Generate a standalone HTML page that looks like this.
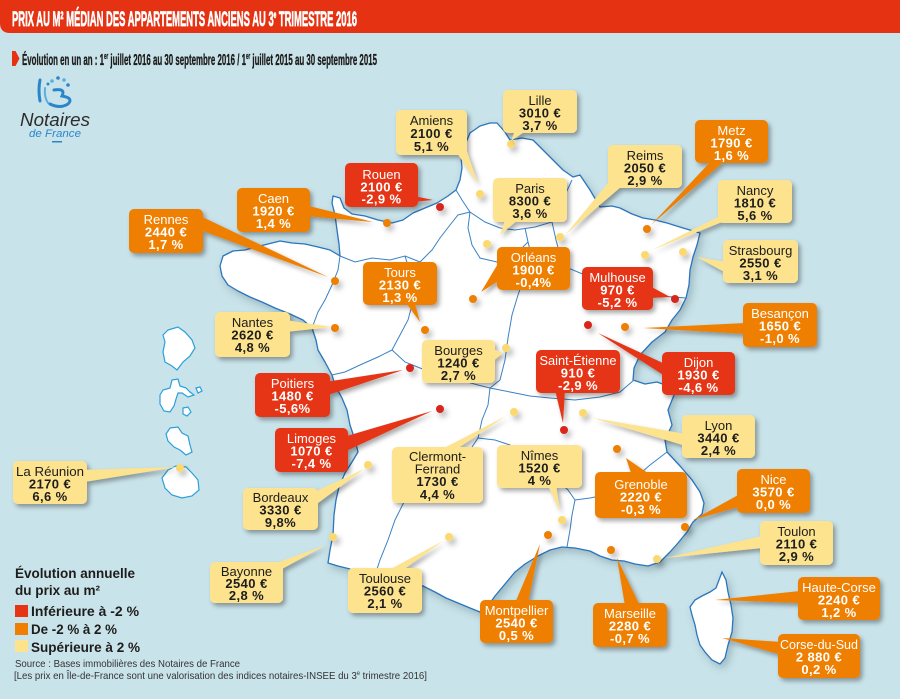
<!DOCTYPE html>
<html><head><meta charset="utf-8">
<style>
html,body{margin:0;padding:0;background:#c9e3ea;}
svg{display:block;}
text{font-family:"Liberation Sans",sans-serif;}
.c{font-size:13px;text-anchor:middle;}
.b{font-weight:bold;letter-spacing:0.4px;}
.w{fill:#ffffff;}
.k{fill:#1d1d1b;}
.R{fill:#e53515;}
.O{fill:#ef7f00;}
.Y{fill:#fde38e;}
.dR{fill:#d8251a;}
.dO{fill:#ef7f00;}
.dY{fill:#fcd96e;}
</style></head>
<body>
<svg width="900" height="699" viewBox="0 0 900 699" xmlns="http://www.w3.org/2000/svg">
<defs>
<filter id="ds" x="-10%" y="-10%" width="130%" height="130%"><feDropShadow dx="2.5" dy="3" stdDeviation="2.5" flood-color="#000" flood-opacity="0.35"/></filter>
<filter id="ms" x="-10%" y="-10%" width="130%" height="130%"><feDropShadow dx="3" dy="4" stdDeviation="4" flood-color="#3a5560" flood-opacity="0.3"/></filter>
<filter id="dd" x="-100%" y="-100%" width="400%" height="400%"><feDropShadow dx="3" dy="4" stdDeviation="3" flood-color="#000" flood-opacity="0.3"/></filter>
</defs>
<rect x="0" y="0" width="900" height="699" fill="#c9e3ea"/>

<!-- Header -->
<path d="M0,0 H900 V33 H10 Q0,33 0,23 Z" fill="#e53212"/>
<text x="12" y="26" font-size="21" font-weight="bold" fill="#fff" stroke="#fff" stroke-width="0.7" textLength="345" lengthAdjust="spacingAndGlyphs">PRIX AU M² MÉDIAN DES APPARTEMENTS ANCIENS AU 3<tspan font-size="10" dy="-8">e</tspan><tspan dy="8"> TRIMESTRE 2016</tspan></text>

<path d="M12,51 L15.5,51 L19.5,58.5 L15.5,66 L12,66 Z" fill="#e53212"/>
<text x="22" y="65" font-size="16" font-weight="bold" fill="#1d1d1b" stroke="#1d1d1b" stroke-width="0.35" textLength="355" lengthAdjust="spacingAndGlyphs">Évolution en un an : 1<tspan font-size="9" dy="-6">er</tspan><tspan dy="6"> juillet 2016 au 30 septembre 2016 / 1</tspan><tspan font-size="9" dy="-6">er</tspan><tspan dy="6"> juillet 2015 au 30 septembre 2015</tspan></text>

<!-- Logo -->
<g fill="none" stroke-linecap="round">
<path d="M40,80 Q38,90 40,101" stroke="#2b86c9" stroke-width="3"/>
<path d="M45,88 Q44,97 48,103" stroke="#5aaee0" stroke-width="2"/>
<path d="M54,90 Q66,88 62,96 Q74,98 68,104 Q60,109 50,104" stroke="#2b86c9" stroke-width="3"/>
</g>
<circle cx="52" cy="81" r="1.8" fill="#5aaee0"/>
<circle cx="58" cy="78" r="1.8" fill="#2b86c9"/>
<circle cx="64" cy="80" r="1.8" fill="#5aaee0"/>
<circle cx="68" cy="85" r="1.8" fill="#2b86c9"/>
<circle cx="48" cy="84" r="1.5" fill="#2b86c9"/>
<text x="20" y="126" font-size="18" font-style="italic" fill="#2d2d2d" textLength="70" lengthAdjust="spacingAndGlyphs">Notaires</text>
<text x="29" y="137" font-size="11" font-style="italic" fill="#2b86c9" textLength="52" lengthAdjust="spacingAndGlyphs">de France</text>
<rect x="52" y="141" width="10" height="1.5" fill="#2b86c9"/>

<!-- Overseas islands -->
<g fill="#fff" stroke="#2aa0dc" stroke-width="1.2">
<path d="M168,330 L178,327 L185,332 L192,340 L195,348 L190,356 L183,362 L177,370 L172,366 L165,362 L163,352 L165,342 L163,335 Z"/>
<path d="M172,380 L178,379 L180,386 L186,388 L190,392 L194,395 L188,397 L182,393 L178,393 L176,399 L174,406 L170,412 L164,411 L160,404 L160,395 L163,390 L170,388 Z"/>
<path d="M196,388 L200,387 L202,391 L198,393 Z"/>
<path d="M183,408 L188,407 L191,412 L187,416 L183,414 Z"/>
<path d="M170,428 L178,427 L182,433 L188,436 L190,445 L192,452 L186,455 L180,450 L174,447 L168,441 L166,434 Z"/>
<path d="M168,470 L176,466 L186,467 L192,473 L198,480 L199,490 L192,496 L182,498 L172,495 L165,488 L162,478 Z"/>
</g>

<!-- France mainland -->
<g filter="url(#ms)">
<path fill="#fff" stroke="#2a75bd" stroke-width="1.3" stroke-linejoin="round" d="M490,123 L497,123 L505,132 L510,140 L522,138 L533,140 L543,150 L553,160 L563,170 L573,177 L580,175 L590,190 L600,207 L612,206 L620,208 L632,214 L643,218 L655,220 L667,223 L683,228 L700,233 L697,245 L693,257 L690,270 L689,285 L686,298 L680,310 L672,320 L665,332 L652,342 L640,355 L634,368 L633,380 L645,384 L657,382 L668,386 L674,395 L668,410 L672,425 L665,440 L667,452 L680,466 L692,480 L700,492 L704,503 L702,514 L693,522 L687,532 L678,543 L670,552 L660,562 L648,566 L635,564 L624,561 L612,560 L600,556 L590,551 L575,548 L562,547 L550,550 L538,556 L525,564 L515,572 L505,584 L495,596 L488,606 L480,612 L470,608 L458,603 L446,598 L435,592 L423,586 L410,582 L395,580 L380,577 L365,574 L350,569 L338,566 L328,563 L330,550 L333,535 L334,515 L336,500 L339,487 L345,473 L352,462 L358,452 L355,440 L350,425 L347,410 L342,398 L335,385 L332,375 L325,362 L318,350 L316,340 L312,328 L303,320 L290,314 L275,308 L262,302 L250,297 L238,291 L228,285 L222,276 L220,266 L223,256 L233,251 L245,250 L256,247 L268,244 L280,241 L292,243 L305,244 L318,247 L330,250 L340,256 L339,244 L337,230 L335,215 L332,203 L333,196 L340,198 L344,208 L352,214 L365,216 L378,220 L392,223 L403,220 L413,213 L425,208 L437,203 L448,196 L456,190 L460,180 L462,168 L461,157 L465,145 L470,133 L480,126 Z"/>
<path fill="#fff" stroke="#2a75bd" stroke-width="1.3" d="M722,572 L726,580 L728,592 L731,605 L733,618 L732,632 L728,645 L725,658 L720,664 L712,660 L705,652 L700,645 L697,635 L695,625 L692,615 L690,607 L695,600 L702,596 L710,592 L716,588 L719,580 Z"/>
</g>
<g fill="none" stroke="#3a82c4" stroke-width="1">
<path d="M456,190 L462,200 L470,212 L485,222 L500,228 L515,230 L535,227 L552,222 L560,210 L565,195 L572,180"/>
<path d="M340,256 L355,262 L372,258 L390,260 L405,256 L420,262 L432,250 L440,238 L450,225 L458,215 L470,212"/>
<path d="M312,328 L318,312 L325,300 L332,285 L338,270 L340,256"/>
<path d="M405,256 L410,272 L405,290 L412,305 L408,320 L400,335 L392,350"/>
<path d="M332,375 L345,372 L360,365 L378,357 L392,350"/>
<path d="M470,212 L468,228 L472,245 L480,258 L497,262 L515,255 L528,242 L525,228"/>
<path d="M528,242 L532,258 L525,275 L518,295 L512,315 L508,338 L505,360 L500,380 L490,388"/>
<path d="M392,350 L405,362 L420,368 L440,375 L460,380 L478,385 L490,388"/>
<path d="M552,222 L556,240 L560,255 L568,268 L585,275 L600,282 L620,288 L640,292 L660,296 L686,298"/>
<path d="M490,388 L510,392 L530,396 L550,398 L575,400 L600,397 L620,392 L634,380"/>
<path d="M490,388 L488,405 L482,420 L478,438 L470,450 L458,458 L445,468 L430,475 L415,485 L405,500 L395,520 L388,540 L380,560 L375,575"/>
<path d="M478,438 L495,440 L510,445 L525,455 L540,468 L555,478 L568,490 L575,500"/>
<path d="M575,500 L590,498 L605,495 L620,488 L635,478 L650,465 L667,452"/>
<path d="M575,500 L572,515 L570,530 L567,547"/>
</g>

<!-- Dots -->
<g filter="url(#dd)">
<circle class="dY" cx="480" cy="194" r="4"/>
<circle class="dY" cx="511" cy="144" r="4"/>
<circle class="dR" cx="440" cy="207" r="4"/>
<circle class="dY" cx="487" cy="244" r="4"/>
<circle class="dY" cx="560" cy="237" r="4"/>
<circle class="dO" cx="473" cy="299" r="4"/>
<circle class="dO" cx="425" cy="330" r="4"/>
<circle class="dR" cx="675" cy="299" r="4"/>
<circle class="dO" cx="647" cy="229" r="4"/>
<circle class="dY" cx="645" cy="255" r="4"/>
<circle class="dY" cx="683" cy="252" r="4"/>
<circle class="dO" cx="387" cy="223" r="4"/>
<circle class="dO" cx="335" cy="281" r="4"/>
<circle class="dO" cx="335" cy="328" r="4"/>
<circle class="dR" cx="410" cy="368" r="4"/>
<circle class="dR" cx="440" cy="409" r="4"/>
<circle class="dY" cx="368" cy="465" r="4"/>
<circle class="dY" cx="333" cy="537" r="4"/>
<circle class="dY" cx="449" cy="537" r="4"/>
<circle class="dY" cx="506" cy="348" r="4"/>
<circle class="dY" cx="514" cy="412" r="4"/>
<circle class="dY" cx="562" cy="520" r="4"/>
<circle class="dR" cx="564" cy="430" r="4"/>
<circle class="dR" cx="588" cy="325" r="4"/>
<circle class="dO" cx="625" cy="327" r="4"/>
<circle class="dY" cx="583" cy="413" r="4"/>
<circle class="dO" cx="617" cy="449" r="4"/>
<circle class="dO" cx="685" cy="527" r="4"/>
<circle class="dY" cx="657" cy="559" r="4"/>
<circle class="dO" cx="548" cy="535" r="4"/>
<circle class="dO" cx="611" cy="550" r="4"/>
<circle class="dY" cx="180" cy="468" r="4"/>
</g>

<!-- Callout shapes -->
<g filter="url(#ds)">
<path class="Y" d="M455,150 L465,146 L478,184 Z"/><rect class="Y" x="396" y="110" width="71" height="45" rx="5"/>
<path class="Y" d="M516,128 L530,128 L511,141 Z"/><rect class="Y" x="503" y="90" width="74" height="43" rx="5"/>
<path class="R" d="M402,203 L414,196 L433,200 Z"/><rect class="R" x="345" y="163" width="73" height="44" rx="5"/>
<path class="Y" d="M506,218 L520,218 L500,235 Z"/><rect class="Y" x="493" y="178" width="74" height="44" rx="5"/>
<path class="Y" d="M612,178 L622,186 L566,234 Z"/><rect class="Y" x="608" y="145" width="74" height="43" rx="5"/>
<path class="O" d="M499,262 L503,278 L481,292 Z"/><rect class="O" x="497" y="247" width="73" height="43" rx="5"/>
<path class="O" d="M404,300 L414,300 L420,322 Z"/><rect class="O" x="363" y="262" width="74" height="43" rx="5"/>
<path class="R" d="M648,285 L650,298 L670,297 Z"/><rect class="R" x="582" y="267" width="71" height="43" rx="5"/>
<path class="O" d="M714,158 L728,158 L651,225 Z"/><rect class="O" x="695" y="120" width="73" height="43" rx="5"/>
<path class="Y" d="M722,215 L732,218 L652,250 Z"/><rect class="Y" x="718" y="180" width="74" height="43" rx="5"/>
<path class="Y" d="M726,262 L728,274 L697,257 Z"/><rect class="Y" x="723" y="240" width="75" height="43" rx="5"/>
<path class="O" d="M305,205 L305,216 L373,222 Z"/><rect class="O" x="237" y="188" width="73" height="44" rx="5"/>
<path class="O" d="M196,214 L200,230 L328,277 Z"/><rect class="O" x="129" y="209" width="74" height="44" rx="5"/>
<path class="Y" d="M285,320 L285,332 L332,327 Z"/><rect class="Y" x="215" y="312" width="75" height="45" rx="5"/>
<path class="R" d="M325,382 L325,396 L403,370 Z"/><rect class="R" x="255" y="373" width="75" height="44" rx="5"/>
<path class="R" d="M340,438 L344,452 L432,411 Z"/><rect class="R" x="275" y="428" width="73" height="44" rx="5"/>
<path class="Y" d="M310,494 L314,506 L364,469 Z"/><rect class="Y" x="243" y="488" width="75" height="42" rx="5"/>
<path class="Y" d="M268,566 L280,570 L326,545 Z"/><rect class="Y" x="210" y="562" width="73" height="41" rx="5"/>
<path class="Y" d="M385,572 L400,572 L443,541 Z"/><rect class="Y" x="348" y="568" width="74" height="45" rx="5"/>
<path class="Y" d="M490,348 L492,362 L503,353 Z"/><rect class="Y" x="422" y="340" width="73" height="43" rx="5"/>
<path class="Y" d="M440,450 L455,450 L506,416 Z"/><rect class="Y" x="392" y="447" width="91" height="56" rx="5"/>
<path class="Y" d="M548,485 L556,485 L560,512 Z"/><rect class="Y" x="497" y="445" width="85" height="43" rx="5"/>
<path class="R" d="M555,390 L565,390 L563,423 Z"/><rect class="R" x="536" y="350" width="84" height="43" rx="5"/>
<path class="R" d="M665,364 L668,378 L598,333 Z"/><rect class="R" x="662" y="352" width="73" height="43" rx="5"/>
<path class="O" d="M746,323 L746,334 L643,328 Z"/><rect class="O" x="743" y="303" width="74" height="44" rx="5"/>
<path class="Y" d="M686,434 L686,446 L593,418 Z"/><rect class="Y" x="682" y="415" width="73" height="43" rx="5"/>
<path class="O" d="M632,476 L652,476 L626,458 Z"/><rect class="O" x="595" y="472" width="92" height="46" rx="5"/>
<path class="O" d="M740,494 L742,506 L693,520 Z"/><rect class="O" x="737" y="469" width="73" height="44" rx="5"/>
<path class="Y" d="M762,536 L762,548 L665,558 Z"/><rect class="Y" x="760" y="521" width="73" height="44" rx="5"/>
<path class="O" d="M800,591 L800,603 L715,600 Z"/><rect class="O" x="798" y="577" width="82" height="43" rx="5"/>
<path class="O" d="M782,642 L782,655 L722,638 Z"/><rect class="O" x="778" y="634" width="82" height="44" rx="5"/>
<path class="O" d="M515,603 L528,603 L540,544 Z"/><rect class="O" x="480" y="600" width="73" height="43" rx="5"/>
<path class="O" d="M625,606 L640,606 L617,558 Z"/><rect class="O" x="593" y="603" width="74" height="44" rx="5"/>
<path class="Y" d="M82,470 L84,482 L177,467 Z"/><rect class="Y" x="13" y="461" width="74" height="43" rx="5"/>
</g>

<!-- Callout text -->
<g class="c">
<text class="k" x="431.5" y="125">Amiens</text><text class="k b" x="431.5" y="138">2100 €</text><text class="k b" x="431.5" y="151">5,1 %</text>
<text class="k" x="540" y="105">Lille</text><text class="k b" x="540" y="117.5">3010 €</text><text class="k b" x="540" y="130">3,7 %</text>
<text class="w" x="381.5" y="179">Rouen</text><text class="w b" x="381.5" y="191.5">2100 €</text><text class="w b" x="381.5" y="203.5">-2,9 %</text>
<text class="k" x="530" y="193">Paris</text><text class="k b" x="530" y="205.5">8300 €</text><text class="k b" x="530" y="218">3,6 %</text>
<text class="k" x="645" y="160">Reims</text><text class="k b" x="645" y="172.5">2050 €</text><text class="k b" x="645" y="185">2,9 %</text>
<text class="w" x="533.5" y="262">Orléans</text><text class="w b" x="533.5" y="274.5">1900 €</text><text class="w b" x="533.5" y="287">-0,4%</text>
<text class="w" x="400" y="277">Tours</text><text class="w b" x="400" y="289.5">2130 €</text><text class="w b" x="400" y="302">1,3 %</text>
<text class="w" x="617.5" y="282">Mulhouse</text><text class="w b" x="617.5" y="294.5">970 €</text><text class="w b" x="617.5" y="307">-5,2 %</text>
<text class="w" x="731.5" y="135">Metz</text><text class="w b" x="731.5" y="147.5">1790 €</text><text class="w b" x="731.5" y="160">1,6 %</text>
<text class="k" x="755" y="195">Nancy</text><text class="k b" x="755" y="207.5">1810 €</text><text class="k b" x="755" y="220">5,6 %</text>
<text class="k" x="760.5" y="255">Strasbourg</text><text class="k b" x="760.5" y="267.5">2550 €</text><text class="k b" x="760.5" y="280">3,1 %</text>
<text class="w" x="273.5" y="203">Caen</text><text class="w b" x="273.5" y="215.5">1920 €</text><text class="w b" x="273.5" y="228">1,4 %</text>
<text class="w" x="166" y="224">Rennes</text><text class="w b" x="166" y="236.5">2440 €</text><text class="w b" x="166" y="249">1,7 %</text>
<text class="k" x="252.5" y="327">Nantes</text><text class="k b" x="252.5" y="339.5">2620 €</text><text class="k b" x="252.5" y="352">4,8 %</text>
<text class="w" x="292.5" y="388">Poitiers</text><text class="w b" x="292.5" y="400.5">1480 €</text><text class="w b" x="292.5" y="413">-5,6%</text>
<text class="w" x="311.5" y="443">Limoges</text><text class="w b" x="311.5" y="455.5">1070 €</text><text class="w b" x="311.5" y="468">-7,4 %</text>
<text class="k" x="280.5" y="502">Bordeaux</text><text class="k b" x="280.5" y="514.5">3330 €</text><text class="k b" x="280.5" y="527">9,8%</text>
<text class="k" x="246.5" y="576">Bayonne</text><text class="k b" x="246.5" y="588">2540 €</text><text class="k b" x="246.5" y="600">2,8 %</text>
<text class="k" x="385" y="583">Toulouse</text><text class="k b" x="385" y="595.5">2560 €</text><text class="k b" x="385" y="608">2,1 %</text>
<text class="k" x="458.5" y="355">Bourges</text><text class="k b" x="458.5" y="367.5">1240 €</text><text class="k b" x="458.5" y="380">2,7 %</text>
<text class="k" x="437.5" y="461">Clermont-</text><text class="k" x="437.5" y="473.5">Ferrand</text><text class="k b" x="437.5" y="486">1730 €</text><text class="k b" x="437.5" y="499">4,4 %</text>
<text class="k" x="539.5" y="460">Nîmes</text><text class="k b" x="539.5" y="472.5">1520 €</text><text class="k b" x="539.5" y="485">4 %</text>
<text class="w" x="578" y="365" textLength="77" lengthAdjust="spacingAndGlyphs">Saint-Étienne</text><text class="w b" x="578" y="377.5">910 €</text><text class="w b" x="578" y="390">-2,9 %</text>
<text class="w" x="698.5" y="367">Dijon</text><text class="w b" x="698.5" y="379.5">1930 €</text><text class="w b" x="698.5" y="392">-4,6 %</text>
<text class="w" x="780" y="318">Besançon</text><text class="w b" x="780" y="330.5">1650 €</text><text class="w b" x="780" y="343">-1,0 %</text>
<text class="k" x="718.5" y="430">Lyon</text><text class="k b" x="718.5" y="442.5">3440 €</text><text class="k b" x="718.5" y="455">2,4 %</text>
<text class="w" x="641" y="489">Grenoble</text><text class="w b" x="641" y="501.5">2220 €</text><text class="w b" x="641" y="514">-0,3 %</text>
<text class="w" x="773.5" y="484">Nice</text><text class="w b" x="773.5" y="496.5">3570 €</text><text class="w b" x="773.5" y="509">0,0 %</text>
<text class="k" x="796.5" y="536">Toulon</text><text class="k b" x="796.5" y="548.5">2110 €</text><text class="k b" x="796.5" y="561">2,9 %</text>
<text class="w" x="839" y="592">Haute-Corse</text><text class="w b" x="839" y="604.5">2240 €</text><text class="w b" x="839" y="617">1,2 %</text>
<text class="w" x="819" y="649" textLength="78" lengthAdjust="spacingAndGlyphs">Corse-du-Sud</text><text class="w b" x="819" y="661.5">2 880 €</text><text class="w b" x="819" y="674">0,2 %</text>
<text class="w" x="516.5" y="615">Montpellier</text><text class="w b" x="516.5" y="627.5">2540 €</text><text class="w b" x="516.5" y="640">0,5 %</text>
<text class="w" x="630" y="618">Marseille</text><text class="w b" x="630" y="630.5">2280 €</text><text class="w b" x="630" y="643">-0,7 %</text>
<text class="k" x="50" y="476" textLength="68" lengthAdjust="spacingAndGlyphs">La Réunion</text><text class="k b" x="50" y="488.5">2170 €</text><text class="k b" x="50" y="501">6,6 %</text>
</g>

<!-- Legend -->
<text x="15" y="578" font-size="14" font-weight="bold" fill="#1d1d1b" textLength="120" lengthAdjust="spacingAndGlyphs">Évolution annuelle</text>
<text x="15" y="595" font-size="14" font-weight="bold" fill="#1d1d1b" textLength="85" lengthAdjust="spacingAndGlyphs">du prix au m²</text>
<rect x="15" y="605" width="13" height="12" fill="#e53515"/>
<rect x="15" y="623" width="13" height="12" fill="#ef7f00"/>
<rect x="15" y="640" width="13" height="12" fill="#fde38e"/>
<text x="31" y="616" font-size="14" font-weight="bold" fill="#1d1d1b" textLength="108" lengthAdjust="spacingAndGlyphs">Inférieure à -2 %</text>
<text x="31" y="634" font-size="14" font-weight="bold" fill="#1d1d1b" textLength="86" lengthAdjust="spacingAndGlyphs">De -2 % à 2 %</text>
<text x="31" y="652" font-size="14" font-weight="bold" fill="#1d1d1b" textLength="109" lengthAdjust="spacingAndGlyphs">Supérieure à 2 %</text>
<text x="15" y="667" font-size="10.5" fill="#333" textLength="225" lengthAdjust="spacingAndGlyphs">Source : Bases immobilières des Notaires de France</text>
<text x="14" y="679" font-size="10.5" fill="#333" textLength="413" lengthAdjust="spacingAndGlyphs">[Les prix en Île-de-France sont une valorisation des indices notaires-INSEE du 3<tspan font-size="6" dy="-4">e</tspan><tspan dy="4"> trimestre 2016]</tspan></text>
</svg>
</body></html>
